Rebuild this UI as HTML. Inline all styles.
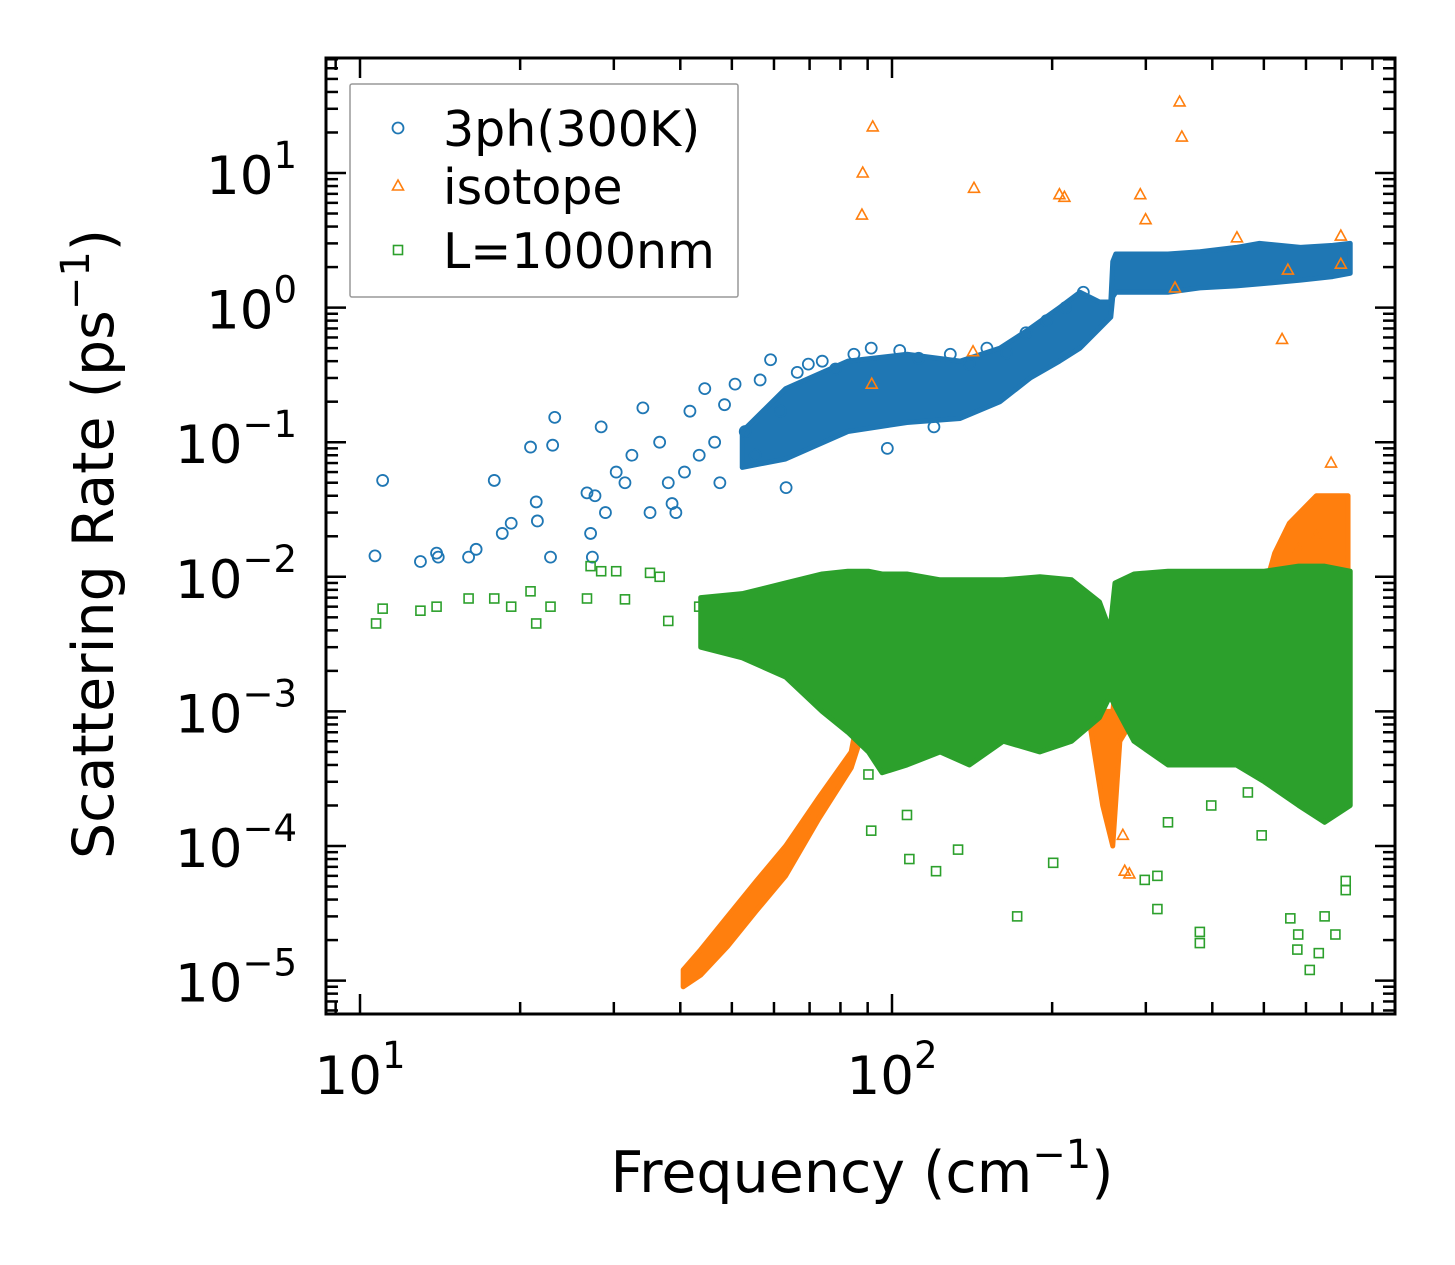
<!DOCTYPE html>
<html><head><meta charset="utf-8"><style>
html,body{margin:0;padding:0;background:#fff;}
svg{display:block;font-family:"DejaVu Sans","Liberation Sans",sans-serif;}
</style></head><body>
<svg id="chart" width="1455" height="1265" viewBox="0 0 1455 1265" xmlns="http://www.w3.org/2000/svg">
<rect x="0" y="0" width="1455" height="1265" fill="#fff"/>
<g id="plot"></g>
<g id="axes"></g>
</svg>
<script>
// ---- data ----
const xTickValues = [10, 100];
const xTickLabels = ["10", "10"];
const xTickExps = ["1", "2"];
const yTickValues = [10, 1, 0.1, 0.01, 0.001, 0.0001, 0.00001];
const yTickLabels = ["10", "10", "10", "10", "10", "10", "10"];
const yTickExps = ["1", "0", "\u22121", "\u22122", "\u22123", "\u22124", "\u22125"];

const blueFreq = [10.67,11.03,12.99,13.93,14.03,16.0,16.53,17.88,18.51,19.24,20.92,21.44,21.55,22.81,23.02,23.23,26.71,27.13,27.34,28.4,27.65,28.93,30.31,31.48,32.44,34.02,35.09,36.58,37.97,38.6,39.24,40.73,41.7,43.41,44.47,46.41,47.47,48.44,50.7,52.98,55.33,56.51,59.12,61.7,63.23,66.36,69.62,73.94,78.3,84.8,91.4,98,103.4,112.2,119.9,128.7,139.8,150.8,164.2,178.6,195.3,212,228.9];
const blueRate = [0.0143,0.052,0.013,0.015,0.014,0.014,0.016,0.052,0.021,0.025,0.092,0.036,0.026,0.014,0.095,0.153,0.042,0.021,0.014,0.13,0.04,0.03,0.06,0.05,0.08,0.18,0.03,0.1,0.05,0.035,0.03,0.06,0.17,0.08,0.25,0.1,0.05,0.19,0.27,0.12,0.08,0.29,0.41,0.17,0.046,0.33,0.38,0.4,0.35,0.45,0.5,0.09,0.48,0.42,0.13,0.45,0.38,0.5,0.46,0.65,0.8,1.0,1.3];
const blueBandFreq = [52.3,63.1,82.6,106.7,134.3,159.6,181.9,206.4,225.6,245.5,257.8,260,263.4,330.2,379,443.8,490.7,586,673.4,726.6];
const blueBandLo = [0.065,0.075,0.12,0.14,0.15,0.2,0.3,0.4,0.5,0.7,0.85,1.2,1.3,1.3,1.4,1.45,1.5,1.6,1.7,1.8];
const blueBandHi = [0.12,0.25,0.4,0.45,0.4,0.5,0.7,1.0,1.3,1.1,1.1,2.2,2.5,2.5,2.6,2.8,3.0,2.8,2.9,3.0];

const orangeFreq = [87.8,88.1,92,91.6,142.6,142,206.4,210.9,292.9,299.7,347.2,350.6,340.4,445,554.9,541,697.7,697.7,668.8,273.8,279.4,271.6,581.3,627.4];
const orangeRate = [4.87,10,22,0.27,7.7,0.47,6.9,6.6,6.9,4.5,33.7,18.5,1.4,3.3,1.9,0.58,3.4,2.1,0.07,6.5e-5,6.2e-5,1.2e-4,0.016,0.02];
const orangeBandFreq = [40.5,43.7,49.1,55.6,63.1,72.9,83.8,88.1,95.8,117.7,139.8,189.7,234.4,248.9,260,268.1,285,386.7,501,524,558.3,627.4,719.8];
const orangeBandLo = [9e-6,1.1e-5,1.8e-5,3.3e-5,6e-5,1.6e-4,3.8e-4,7e-4,8e-4,9e-4,9e-4,1e-3,9e-4,2e-4,1e-4,6e-4,9e-4,9e-4,9e-4,9e-4,9e-4,9e-4,9e-4];
const orangeBandHi = [1.2e-5,1.7e-5,3e-5,5.5e-5,1e-4,2.3e-4,5e-4,1.4e-3,2.5e-3,3.5e-3,4e-3,4e-3,3.5e-3,1e-3,1e-3,3e-3,5e-3,6e-3,8e-3,1.5e-2,2.5e-2,4e-2,4e-2];

const greenFreq = [10.72,11.03,12.99,13.93,16.0,17.88,19.24,20.92,21.44,22.81,26.71,27.13,28.4,30.31,31.48,35.09,36.58,37.97,43.41,51.25,90.3,91.4,106.7,121,133.1,171.9,200.9,298.6,315.4,315.4,379,379,495.3,560.7,580.2,609.9,634.2,712.6,712.6,681.5,578,107.8,330.2,398.2,466.6,650.4];
const greenRate = [0.0045,0.0058,0.0056,0.006,0.0069,0.0069,0.006,0.0078,0.0045,0.006,0.0069,0.012,0.011,0.011,0.0068,0.0107,0.010,0.0047,0.006,0.0032,3.4e-4,1.3e-4,1.7e-4,6.5e-5,9.4e-5,3e-5,7.5e-5,5.6e-5,6e-5,3.4e-5,2.3e-5,1.9e-5,1.2e-4,2.9e-5,2.2e-5,1.2e-5,1.6e-5,5.5e-5,4.7e-5,2.2e-5,1.7e-5,8e-5,1.5e-4,2e-4,2.5e-4,3e-5];
const greenBandFreq = [43.7,52.3,63.1,73.9,82.6,90.3,95.8,106.7,123.2,139.8,161.9,189.7,217.6,245.5,256.9,262.5,285,330.2,386.7,443.8,501,581.3,650.4,726.6];
const greenBandLo = [0.003,0.0025,0.0018,0.001,7e-4,5e-4,3.5e-4,4e-4,5e-4,4e-4,6e-4,5e-4,6e-4,9e-4,1.3e-3,1.1e-3,6e-4,4e-4,4e-4,4e-4,3e-4,2e-4,1.5e-4,2e-4];
const greenBandHi = [0.007,0.0075,0.009,0.0105,0.011,0.011,0.0105,0.0105,0.0095,0.0095,0.0095,0.01,0.0095,0.0065,0.004,0.009,0.0105,0.011,0.011,0.011,0.011,0.012,0.012,0.011];

// ---- axes ----
const L=326,R=1395,T=58,B=1014;
const X0=360, XD=532, Y0=173, YD=134.6;
const sx = v => X0 + (Math.log10(v)-1)*XD;
const sy = v => Y0 - (Math.log10(v)-1)*YD;
const NS="http://www.w3.org/2000/svg";
const plot=document.getElementById('plot'), axes=document.getElementById('axes');
function mk(tag, attrs, parent){const e=document.createElementNS(NS,tag);for(const k in attrs)e.setAttribute(k,attrs[k]);parent.appendChild(e);return e;}

const clip=mk('clipPath',{id:'clip'},document.getElementById('chart'));
mk('rect',{x:L,y:T,width:R-L,height:B-T},clip);
plot.setAttribute('clip-path','url(#clip)');

const C={blue:'#1f77b4',orange:'#ff7f0e',green:'#2ca02c'};

function band(fr,lo,hi,color,name){
  let d='M'+fr.map((f,i)=>sx(f)+','+sy(hi[i])).join(' L');
  for(let i=fr.length-1;i>=0;i--) d+=' L'+sx(fr[i])+','+sy(lo[i]);
  d+='Z';
  const p=mk('path',{d:d,fill:color,stroke:color,'stroke-width':5,'stroke-linejoin':'round'},plot);
  
  
}
function marker(kind,x,y,color,g){
  let e;
  if(kind==='o') e=mk('circle',{cx:x,cy:y,r:5.5,fill:'none',stroke:color,'stroke-width':1.8},g);
  else if(kind==='^') e=mk('path',{d:`M${x},${y-6} L${x+5.5},${y+4} L${x-5.5},${y+4}Z`,fill:'none',stroke:color,'stroke-width':1.6},g);
  else e=mk('rect',{x:x-4.5,y:y-4.5,width:9,height:9,fill:'none',stroke:color,'stroke-width':1.6},g);
  return e;
}
function series(fr,rt,kind,color,name){
  const g=mk('g',{},plot);
  
  
  fr.forEach((f,i)=>{
    const m=marker(kind,sx(f),sy(rt[i]),color,g);
    
    
  });
}
band(blueBandFreq,blueBandLo,blueBandHi,C.blue,'3ph-dense-band');
series(blueFreq,blueRate,'o',C.blue,'3ph-series');
band(orangeBandFreq,orangeBandLo,orangeBandHi,C.orange,'isotope-dense-band');
series(orangeFreq,orangeRate,'^',C.orange,'isotope-series');
band(greenBandFreq,greenBandLo,greenBandHi,C.green,'boundary-dense-band');
series(greenFreq,greenRate,'s',C.green,'boundary-series');

// frame
const fr=mk('rect',{x:L,y:T,width:R-L,height:B-T,fill:'none',stroke:'#000','stroke-width':3},axes);



// ticks
const tg=mk('g',{stroke:'#000','stroke-width':2.5},axes);


for(let dec=0;dec<=3;dec++){for(let m=1;m<10;m++){
  const v=Math.pow(10,dec)*m; const x=sx(v); if(x<L||x>R) continue;
  const len=m===1?20:12;
  mk('line',{x1:x,y1:B,x2:x,y2:B-len},tg); mk('line',{x1:x,y1:T,x2:x,y2:T+len},tg);
}}
for(let dec=-6;dec<=2;dec++){for(let m=1;m<10;m++){
  const v=Math.pow(10,dec)*m; const y=sy(v); if(y<T||y>B) continue;
  const len=m===1?20:12;
  mk('line',{x1:L,y1:y,x2:L+len,y2:y},tg); mk('line',{x1:R,y1:y,x2:R-len,y2:y},tg);
}}
xTickValues.forEach((v,i)=>{
  const t=mk('text',{x:sx(v),y:1094,'font-size':53,'text-anchor':'middle',fill:'#000'},axes);
  t.textContent=xTickLabels[i];
  const s=mk('tspan',{dy:-26,'font-size':37},t); s.textContent=xTickExps[i];
  
  
});
yTickValues.forEach((v,i)=>{
  const t=mk('text',{x:297,y:sy(v)+21,'font-size':53,'text-anchor':'end',fill:'#000'},axes);
  t.textContent=yTickLabels[i];
  const s=mk('tspan',{dy:-26,'font-size':37},t); s.textContent=yTickExps[i];
  
  
});
const xt=mk('text',{x:862,y:1192,'font-size':57,'text-anchor':'middle',fill:'#000'},axes);
xt.innerHTML='Frequency (cm<tspan dy="-24" font-size="40">\u22121</tspan><tspan dy="24">)</tspan>';


const yt=mk('text',{x:0,y:0,'font-size':57,'text-anchor':'middle',fill:'#000',transform:'translate(113,544) rotate(-90)'},axes);
yt.innerHTML='Scattering Rate (ps<tspan dy="-24" font-size="40">\u22121</tspan><tspan dy="24">)</tspan>';



// legend
const lg=mk('g',{},axes);


mk('rect',{x:350,y:84,width:388,height:213,fill:'#fff',stroke:'#999','stroke-width':1.5,rx:2},lg);
const legNames=['3ph(300K)','isotope','L=1000nm'], legKinds=['o','^','s'], legCols=[C.blue,C.orange,C.green], legY=[130,188,252];
legNames.forEach((n,i)=>{
  const e=mk('g',{},lg);
  
  
  marker(legKinds[i],398,legY[i]-2,legCols[i],e);
  const t=mk('text',{x:443,y:legY[i]+16,'font-size':49,fill:'#000'},e); t.textContent=n;
});
</script>
</body></html>
